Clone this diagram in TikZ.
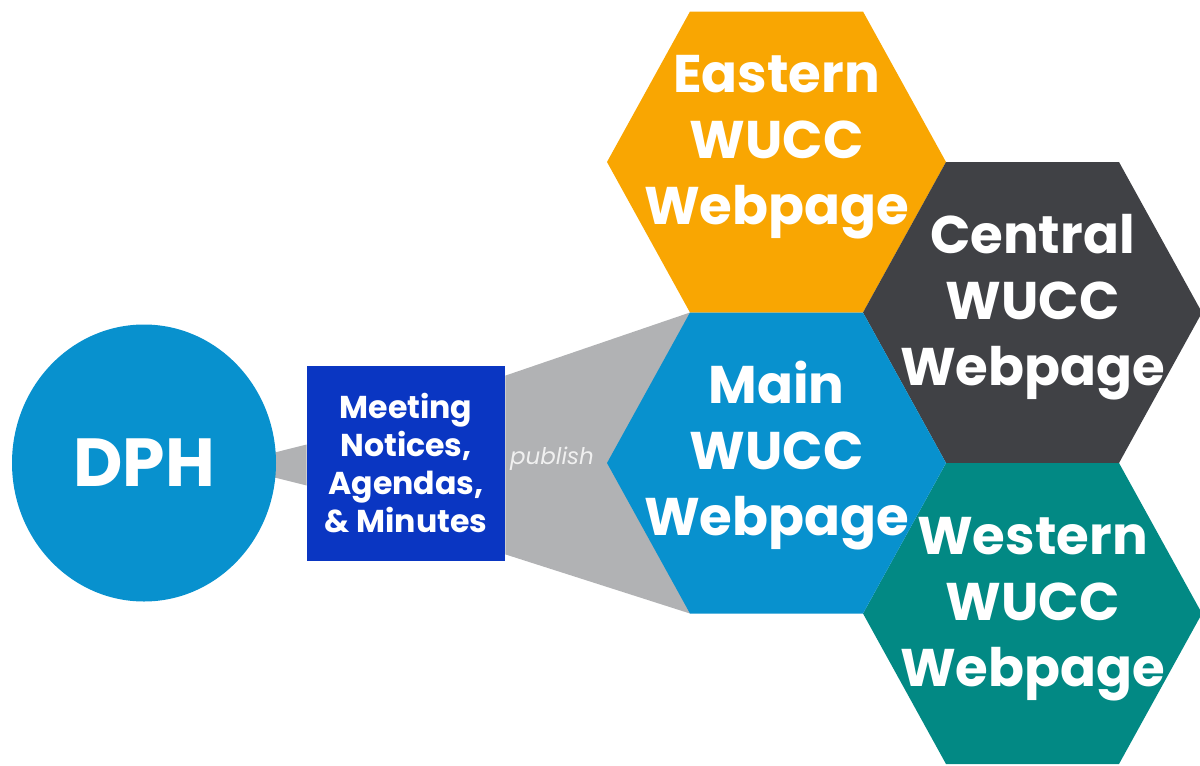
\documentclass[tikz,border=0pt]{standalone}
\usepackage{fontspec}
\setmainfont{Poppins}
\usetikzlibrary{positioning,calc,shapes.geometric,backgrounds}
\definecolor{dphblue}{HTML}{0891CE}
\definecolor{docblue}{HTML}{0A36C2}
\definecolor{eastorange}{HTML}{F9A602}
\definecolor{centgrey}{HTML}{404145}
\definecolor{westteal}{HTML}{028984}
\definecolor{funnelgrey}{HTML}{B1B2B4}
\begin{document}
\begin{tikzpicture}[x=0.5pt,y=-0.5pt]
    \tikzset{hextext/.style={text=white, align=center, font=\bfseries\fontsize{26.5}{33}\selectfont}}
    \tikzset{doctext/.style={text=white, align=center, font=\bfseries\fontsize{15.8}{19}\selectfont}}
    \useasboundingbox (0,0) rectangle (1200,766);

    \foreach \h/\cx/\cy in {main/776.5/463, east/776.5/162, cent/1032.5/312.5, west/1032.5/613.5}{
        \coordinate (\h-c) at (\cx,\cy);
        \coordinate (\h-l) at (\cx-169.5,\cy);
        \coordinate (\h-tl) at (\cx-86.5,\cy-150.5);
        \coordinate (\h-tr) at (\cx+86.5,\cy-150.5);
        \coordinate (\h-r) at (\cx+169.5,\cy);
        \coordinate (\h-br) at (\cx+86.5,\cy+150.5);
        \coordinate (\h-bl) at (\cx-86.5,\cy+150.5);
    }
    \foreach \h/\col in {east/eastorange, cent/centgrey, west/westteal, main/dphblue}
        \fill[\col] (\h-l) -- (\h-tl) -- (\h-tr) -- (\h-r) -- (\h-br) -- (\h-bl) -- cycle;

    \node[ellipse, fill=dphblue, minimum width=132pt, minimum height=138.5pt, text=white,
          font=\bfseries\fontsize{34}{40}\selectfont] (dph) at (144,463) {DPH};
    \node[fill=docblue, minimum width=99pt, minimum height=97.5pt, inner sep=0pt, doctext] (docs) at (406,463.5)
        {Meeting\\Notices,\\Agendas,\\\& Minutes};
    \node[text=white!94!black, font=\itshape\fontsize{11.5}{14}\selectfont] (pub) at (552,459) {publish};

    \node[hextext] (east) at ($(east-c)+(0,-15)$) {Eastern\\WUCC\\Webpage};
    \node[hextext] (main) at ($(main-c)+(0,-7)$) {Main\\WUCC\\Webpage};
    \node[hextext] (cent) at ($(cent-c)+(0,-5)$) {Central\\WUCC\\Webpage};
    \node[hextext] (west) at ($(west-c)+(0,-4)$) {Western\\WUCC\\Webpage};

    \begin{scope}[on background layer]
        \fill[funnelgrey] ($(dph.center)+(81,2)$) -- ($(docs.west)+(0,-19)$) -- ($(docs.west)+(0,22)$) -- cycle;
        \fill[funnelgrey] ($(docs.north east)+(0,10)$) -- (main-tl) -- (main-bl) -- ($(docs.south east)+(0,-7)$) -- cycle;
    \end{scope}
\end{tikzpicture}
\end{document}
